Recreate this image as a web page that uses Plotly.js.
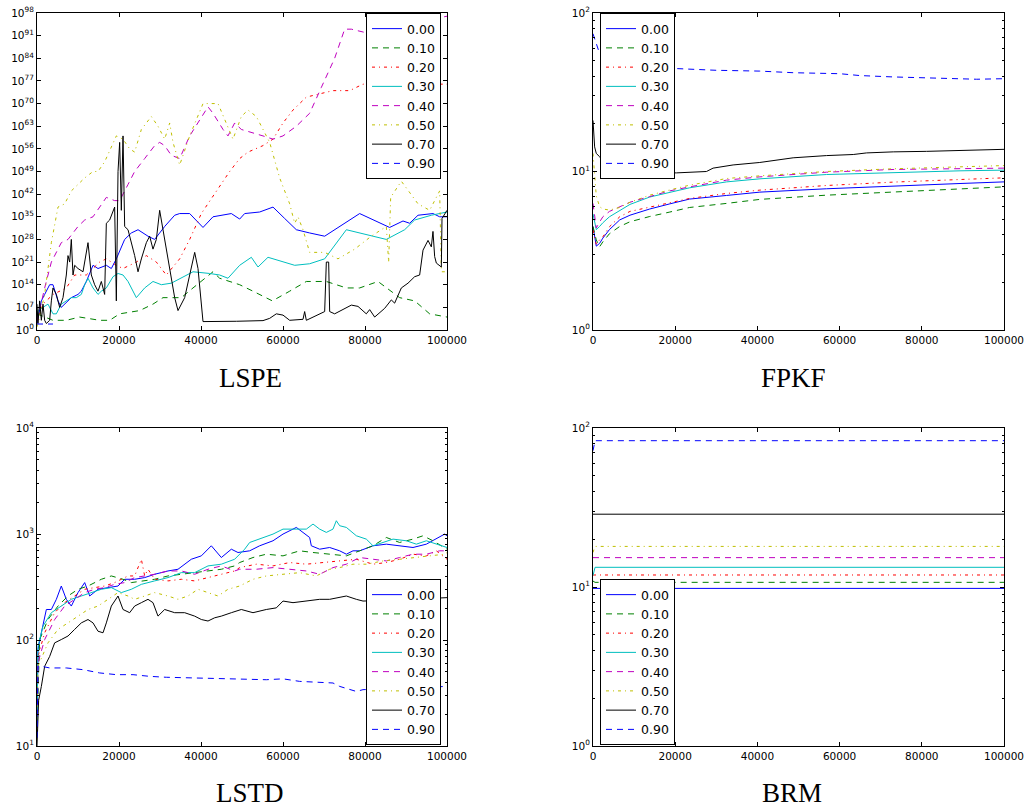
<!DOCTYPE html>
<html><head><meta charset="utf-8">
<script src="https://cdn.plot.ly/plotly-3.0.1.min.js"></script>
<style>html,body{margin:0;padding:0;background:#fff;}#chart{width:1029px;height:811px;}</style>
</head><body><div id="chart"></div>
<script>
// ---------- series names ----------
const seriesNames = ['0.00','0.10','0.20','0.30','0.40','0.50','0.70','0.90'];
const panelTitles = ['LSPE','FPKF','LSTD','BRM'];

// ---------- tick labels ----------
const lspeTickVals = [1e0,1e7,1e14,1e21,1e28,1e35,1e42,1e49,1e56,1e63,1e70,1e77,1e84,1e91,1e98];
const lspeTickText = ['10<sup>0</sup>','10<sup>7</sup>','10<sup>14</sup>','10<sup>21</sup>','10<sup>28</sup>','10<sup>35</sup>','10<sup>42</sup>','10<sup>49</sup>','10<sup>56</sup>','10<sup>63</sup>','10<sup>70</sup>','10<sup>77</sup>','10<sup>84</sup>','10<sup>91</sup>','10<sup>98</sup>'];
const decTickVals2 = [1,10,100];
const decTickText2 = ['10<sup>0</sup>','10<sup>1</sup>','10<sup>2</sup>'];
const decTickVals4 = [10,100,1000,10000];
const decTickText4 = ['10<sup>1</sup>','10<sup>2</sup>','10<sup>3</sup>','10<sup>4</sup>'];
const minorVals2 = [2,3,4,5,6,7,8,9,20,30,40,50,60,70,80,90];
const minorVals4 = [20,30,40,50,60,70,80,90,200,300,400,500,600,700,800,900,2000,3000,4000,5000,6000,7000,8000,9000];
const xTickVals = [0,20000,40000,60000,80000,100000];

// ---------- LSPE ----------
const lspeX00 = [0,1060,1870,3090,3900,5120,5930,8370,10000,10810,12030,13660,14880,16910,18130,19350,21380,23010,24640,27070,28700,31140,33580,34800,37240,40490,42930,47400,49430,50650,54310,57560,60410,63250,66500,70160,78700,86010,89270,90890,92930,96580,98210,100000];
const lspeY00 = [1e2,1e9,1e11,1e14,1e14,1e9,1e7,1e10,1e11,1e12,1e15,1e20,1e19,1e20,1e19,1e22,1e28,1e30,1e31,1e29,1e28,1e32,3e35,1e36,1e36,5e31,1e35,1e36,2e34,1e36,3e36,1e38,3e34,1e31,1e30,1e29,1e36,5e31,5e33,1e33,3e35,1e36,1e35,1e35];
const lspeX10 = [0,3900,7150,10400,15280,17720,20160,25040,28290,30730,33170,35200,38050,40080,42930,44550,49430,52680,57400,61630,65690,70570,75450,78700,83170,88450,92110,95770,100000];
const lspeY10 = [1e5,1e3,1e3,1e4,1e3,1e3,1e5,1e6,1e8,1e10,1e10,1e10,1e13,1e15,1e18,1e16,1e14,1e12,1e9,1e12,1e15,1e15,1e13,1e13,1e15,1e10,1e9,1e5,1e4];
const lspeX20 = [0,1460,3900,7150,9190,12030,15280,16910,19350,20970,24230,26670,29110,31540,34800,37240,40080,43740,46990,49430,51460,55120,57560,60000,62440,65690,68940,72190,76260,79510,100000];
const lspeY20 = [1e3,1e8,1e11,1e13,1e17,1e17,1e21,1e22,1e20,1e19,1e21,1e23,1e21,1e17,1e22,1e28,1e36,1e43,1e49,1e53,1e55,1e57,1e59,1e64,1e68,1e72,1e73,1e74,1e74,1e76,1e76];
const lspeX30 = [0,240,1460,2680,3900,4720,5930,7150,8370,9590,10810,11630,12440,13660,14880,15690,16910,18540,19760,20980,22200,24230,26260,28290,30330,32760,35610,38050,42110,44550,46580,49430,52280,53900,56340,59190,62850,66500,70160,75450,85200,89670,92110,96180,100000];
const lspeY30 = [1e4,1e6,1e7,1e8,1e5,1e5,1e8,1e9,1e10,1e10,1e11,1e14,1e16,1e13,1e11,1e12,1e13,3e16,3e17,1e17,1e15,1e10,1e13,1e15,1e14,3e14,3e16,1e18,3e17,1e17,1e16,1e20,3e22,3e19,3e22,3e21,1e20,3e20,1e22,1e31,1e28,1e31,1e34,3e35,3e36];
const lspeX40 = [0,240,1870,3500,5930,7560,10000,11630,13660,15690,16910,18940,20160,22200,23820,26260,28700,29920,31140,32760,34800,37240,39670,41710,42930,45370,46580,48210,49840,52680,55120,57560,60000,63250,66500,69350,72600,75040,76670,79920,100000];
const lspeY40 = [1e3,1e4,1e13,1e21,1e27,1e28,1e32,1e34,1e35,1e39,1e41,1e40,1e40,1e45,1e49,1e53,1e57,1e58,1e57,1e54,1e53,1e60,1e65,1e69,1e67,1e62,1e60,1e64,1e62,1e61,1e60,1e59,1e60,1e63,1e67,1e75,1e84,1e93,1e93,1e92,1e97];
const lspeX50 = [0,240,1870,3500,5120,6750,8370,10000,11630,13660,14880,16500,19350,20970,22600,23820,25450,27890,29510,31140,32360,33170,34800,37240,40490,44150,45770,47800,49840,51460,53500,55120,56750,59190,61630,62850,63660,64880,66500,70160,73410,77480,81540,85200,85770,86260,88860,92930,95770,98210,98620,100000];
const lspeY50 = [1e1,1e2,1e11,1e27,1e38,1e39,1e43,1e45,1e47,1e49,1e49,1e52,1e60,1e59,1e56,1e55,1e62,1e66,1e63,1e59,1e64,1e58,1e51,1e60,1e70,1e70,1e65,1e59,1e66,1e68,1e66,1e62,1e58,1e47,1e39,1e33,1e35,1e31,1e24,1e24,1e22,1e25,1e29,1e32,1e21,1e41,1e46,1e39,1e37,1e43,1e18,1e18];
const lspeX70 = [0,240,650,1060,1460,1870,2280,3090,3500,3900,4720,5530,6340,7150,7560,7970,8370,8780,9190,10000,11220,12030,12440,13250,14060,14880,15690,16500,16910,17720,18540,18940,19350,19760,20160,20570,20980,21380,22200,23010,23820,24640,25450,26670,27480,28290,29110,29920,30730,31950,33580,34390,36020,38460,39270,40490,44550,48620,55120,56750,58370,60000,61630,64880,65280,65690,70160,70570,71140,71380,72600,76670,78290,80320,81140,82360,84800,86420,87230,88860,90490,92110,93330,94150,95370,96180,96580,96990,97400,98620,98780,100000];
const lspeY70 = [1e8,1e2,1e9,1e3,1e8,1e3,1e2,1e3,1e9,1e13,1e11,1e7,1e10,1e17,1e23,1e21,1e28,1e17,1e20,1e19,1e18,1e24,1e27,1e17,1e14,1e12,1e15,1e11,1e33,1e34,1e37,1e38,1e9,1e49,1e58,1e37,1e60,1e32,1e31,1e27,1e23,1e18,1e22,1e27,1e29,1e25,1e28,1e37,1e31,1e22,1e10,1e6,1e10,1e24,1e19,4e2,4e2,5e2,8e2,4e3,1e5,4e4,1e3,2e3,5e5,1e3,5e5,1e21,1e21,5e5,1e5,5e7,2e7,1e5,2e6,1e4,5e6,2e9,2e8,1e13,3e14,3e16,1e17,5e24,5e27,5e25,3e30,5e22,5e20,3e19,3e34,1e37];
const lspeX90 = [0,3900];
const lspeY90 = [70,70];

// ---------- FPKF ----------
const fpkfX = [0,800,1600,2400,4000,6500,9000,13800,18700,23500,32500,40600,56800,73000,89300,100000];
const fpkf00 = [4.5,3.38,3.52,3.8,4.3,4.95,5.3,5.8,6.25,6.7,7.06,7.41,7.78,8.12,8.4,8.6];
const fpkf10 = [4.5,3.7,3.35,3.6,4.05,4.5,4.82,5.2,5.55,5.93,6.29,6.67,7.09,7.44,7.78,8.0];
const fpkf20 = [4.27,3.48,3.7,3.87,4.48,5.18,5.6,5.95,6.3,6.76,7.27,7.63,8.16,8.57,8.9,9.12];
const fpkf30 = [5.4,4.3,4.5,4.75,5.18,5.7,6.2,6.9,7.4,7.89,8.6,8.99,9.57,9.86,10.1,10.2];
const fpkf40 = [6.29,4.4,4.8,5.18,5.6,6.0,6.4,6.95,7.55,8.0,8.82,9.25,9.9,10.3,10.4,10.5];
const fpkf50 = [13,7.0,6.0,5.8,5.71,5.93,6.4,7.09,7.65,8.2,9.03,9.39,10.0,10.4,10.7,10.9];
const fpkfX70 = [0,400,800,1600,4870,6490,8120,12170,16230,20290,27600,29220,34090,40580,48700,56820,63320,66560,73050,81170,89290,100000];
const fpkf70 = [21,14.3,13,12.4,9.7,9.3,9.5,9.7,9.8,9.8,10,10.5,11,11.4,12.2,12.6,12.8,13.1,13.3,13.4,13.6,13.8];
const fpkfX90 = [0,800,1460,20290,30030,40580,48700,60060,64930,73050,81170,93340,100000];
const fpkf90 = [74,64,57,44.6,43.5,43,42,41.4,40.3,39.5,39.1,38.2,38.5];

// ---------- LSTD ----------
const lstdX00 = [0,240,1060,2280,3500,4720,5930,7150,8370,10000,11630,12850,14880,17320,19760,21380,23820,26260,28700,31950,34390,37640,40080,42520,44960,47400,49020,51870,54310,57560,60000,63250,64880,66500,66910,68940,71380,73820,75450,77070,78700,81950,85200,88450,91710,94960,97400,99430,100000];
const lstd00 = [15,81,117,194,194,242,323,242,209,280,348,260,301,312,323,374,374,388,417,448,465,578,622,774,600,719,669,694,774,863,998,1154,1035,927,774,719,746,694,645,694,694,774,802,774,746,802,895,998,962];
const lstdX10 = [0,650,2680,5120,7560,10000,12440,15690,18130,20980,23010,25450,28700,31950,35200,38450,41710,44960,48210,49430,52680,55930,60000,64060,67320,71380,75450,78700,81950,85200,88450,91710,94150,96580,100000];
const lstd10 = [15,101,156,209,260,301,323,374,402,374,348,361,374,402,417,432,448,465,500,538,600,645,622,694,669,645,622,694,774,927,832,895,962,863,719];
const lstdX20 = [0,240,1870,4310,6750,9190,11630,14060,16500,18940,20570,22200,23820,25450,26260,27070,28700,31950,35200,38450,41710,44960,48210,49430,53500,57560,61630,65690,69750,73820,77890,81950,85200,88450,91710,94960,97400,100000];
const lstd20 = [15,70,117,181,225,260,301,312,323,348,374,402,402,578,402,465,374,361,374,361,388,417,448,482,519,500,538,519,538,557,578,519,538,578,645,622,694,578];
const lstdX30 = [0,240,1460,3500,5930,8370,10810,13250,15690,18130,20570,23010,25450,28700,31950,35200,38450,41710,44960,48210,50650,51870,55120,57560,60000,62440,65690,67320,68940,70570,72190,73010,73820,75450,77890,80320,81950,84390,86830,90080,92520,94960,97400,99430,100000];
const lstd30 = [15,87,135,181,209,242,260,280,301,312,280,301,335,361,388,432,432,500,519,578,719,832,927,998,1112,1112,1112,1241,1112,1035,1112,1334,1197,1154,962,895,774,832,895,863,802,863,802,746,746];
const lstdX40 = [0,240,1870,4310,6750,9190,11630,14060,16500,18940,21380,23820,26260,28700,31950,35200,38450,41710,44960,48210,49430,53500,57560,61630,65690,68940,72190,75450,78700,81950,85200,88450,91710,94960,98210,100000];
const lstd40 = [15,61,101,156,209,242,280,301,312,335,348,388,402,417,448,448,417,465,500,448,465,465,482,465,448,417,482,519,600,578,557,600,645,645,694,694];
const lstdX50 = [0,240,2680,5120,7560,10000,12440,14880,17320,19760,22200,23820,26260,28700,31950,34390,36830,39270,41710,44150,46580,49430,52680,55930,60000,64060,68130,71380,73820,77070,80320,84390,88450,92520,96580,99430,100000];
const lstd50 = [12,56.5,94,126,145,168,194,209,242,280,260,242,260,280,260,242,260,301,280,260,301,323,374,402,417,432,402,465,482,519,519,557,578,600,622,645,669];
const lstdX70 = [0,80,400,1060,1870,3090,4310,5930,7560,9190,10810,12440,13660,14880,16100,16910,18130,19760,20980,22600,23820,25450,27070,28290,29510,31140,33580,36020,38450,40080,41710,43330,44960,47400,49840,52680,55930,58370,60000,62440,65690,68940,71380,73820,75450,77890,79510,90000,100000];
const lstd70 = [10,13,27,36.5,56.5,70,94,101,109,126,145,156,145,121,117,145,209,260,194,181,209,225,242,225,168,194,181,181,168,156,151,162,168,181,194,181,194,201,233,225,233,242,242,251,260,242,233,240,251];
const lstdX90 = [0,240,1060,3090,7150,11220,15280,19350,23420,27480,31540,35610,39670,43740,47800,51870,55930,60000,64060,68130,72190,73820,76260,77890,79510,100000];
const lstd90 = [12,56.5,56.5,54.5,54.5,52.5,48.9,47.1,47.1,45.4,44.5,44,43.8,43,43,42.2,42.2,43,40.7,40,39.3,36.5,34,32.7,34,36.5];

// ---------- BRM ----------
const brmX = [0,500,100000];
const brm00 = [9.8,9.8,9.8];
const brm10 = [10.9,10.7,10.7];
const brm20 = [11.9,11.9,11.9];
const brm30 = [11.8,13.3,13.3];
const brm40 = [15.3,15.3,15.3];
const brm50 = [16.5,18.0,18.0];
const brm70 = [28.7,28.7,28.7];
const brm90 = [72,83.2,83.2];

// ---------- styles ----------
const colors = ['#0000ff','#008000','#ff0000','#00bfbf','#bf00bf','#bfbf00','#000000','#0000ff'];
const dashes = ['solid','6px,5px','3px,4px,1px,4px','solid','6px,5px','3px,4px,1px,4px','solid','6px,5px'];

const panels = [
  {xs:[lspeX00,lspeX10,lspeX20,lspeX30,lspeX40,lspeX50,lspeX70,lspeX90], ys:[lspeY00,lspeY10,lspeY20,lspeY30,lspeY40,lspeY50,lspeY70,lspeY90], ax:'', lg:'legend'},
  {xs:[fpkfX,fpkfX,fpkfX,fpkfX,fpkfX,fpkfX,fpkfX70,fpkfX90], ys:[fpkf00,fpkf10,fpkf20,fpkf30,fpkf40,fpkf50,fpkf70,fpkf90], ax:'2', lg:'legend2'},
  {xs:[lstdX00,lstdX10,lstdX20,lstdX30,lstdX40,lstdX50,lstdX70,lstdX90], ys:[lstd00,lstd10,lstd20,lstd30,lstd40,lstd50,lstd70,lstd90], ax:'3', lg:'legend3'},
  {xs:[brmX,brmX,brmX,brmX,brmX,brmX,brmX,brmX], ys:[brm00,brm10,brm20,brm30,brm40,brm50,brm70,brm90], ax:'4', lg:'legend4'}
];

const traces = [];
panels.forEach(p => {
  seriesNames.forEach((nm, i) => {
    traces.push({
      type:'scatter', mode:'lines', name:nm,
      x:p.xs[i], y:p.ys[i],
      xaxis:'x'+p.ax, yaxis:'y'+p.ax, legend:p.lg,
      line:{color:colors[i], width:1, dash:dashes[i]},
      hoverinfo:'skip'
    });
  });
});

const W = 1029, H = 811;
const fx = p => p / W, fy = p => 1 - p / H;
const tickFont = {family:'DejaVu Sans, sans-serif', size:10.5, color:'#000'};
const baseAxis = {
  showline:true, linecolor:'#000', linewidth:1, mirror:'ticks',
  ticks:'inside', ticklen:4, tickwidth:1, tickcolor:'#000',
  showgrid:false, zeroline:false, tickfont:tickFont, fixedrange:true
};
function xAxis(dom, anchor) {
  return Object.assign({}, baseAxis, {domain:dom, anchor:anchor, range:[0,100000],
    tickmode:'array', tickvals:xTickVals, ticktext:xTickVals.map(String)});
}
function yAxis(dom, anchor, range, tv, tt, minor) {
  const a = Object.assign({}, baseAxis, {domain:dom, anchor:anchor, type:'log', range:range,
    tickmode:'array', tickvals:tv, ticktext:tt});
  if (minor) a.minor = {tickmode:'array', tickvals:minor, ticks:'inside', ticklen:2, tickwidth:1, tickcolor:'#000', showgrid:false};
  return a;
}
const colL = [fx(37), fx(447)], colR = [fx(593), fx(1004)];
const rowT = [fy(330), fy(13)], rowB = [fy(746), fy(428)];

const legendBase = {bgcolor:'#fff', bordercolor:'#000', borderwidth:1,
  font:{family:'DejaVu Sans, sans-serif', size:12.5, color:'#000'}, tracegroupgap:0};

const titleFont = {family:'Liberation Serif, serif', size:27, color:'#000'};
const layout = {
  width:W, height:H, margin:{l:0,r:0,t:0,b:0}, paper_bgcolor:'#fff', plot_bgcolor:'#fff',
  showlegend:true,
  xaxis: xAxis(colL,'y'), yaxis: yAxis(rowT,'x',[0,98],lspeTickVals,lspeTickText,null),
  xaxis2: xAxis(colR,'y2'), yaxis2: yAxis(rowT,'x2',[0,2],decTickVals2,decTickText2,minorVals2),
  xaxis3: xAxis(colL,'y3'), yaxis3: yAxis(rowB,'x3',[1,4],decTickVals4,decTickText4,minorVals4),
  xaxis4: xAxis(colR,'y4'), yaxis4: yAxis(rowB,'x4',[0,2],decTickVals2,decTickText2,minorVals2),
  legend: Object.assign({}, legendBase, {x:fx(441), xanchor:'right', y:fy(96), yanchor:'middle'}),
  legend2: Object.assign({}, legendBase, {x:fx(600), xanchor:'left', y:fy(96), yanchor:'middle'}),
  legend3: Object.assign({}, legendBase, {x:fx(441), xanchor:'right', y:fy(662), yanchor:'middle'}),
  legend4: Object.assign({}, legendBase, {x:fx(600), xanchor:'left', y:fy(662), yanchor:'middle'}),
  annotations: [
    {text:panelTitles[0], xref:'paper', yref:'paper', x:fx(250), y:fy(378), xanchor:'center', yanchor:'middle', showarrow:false, font:titleFont},
    {text:panelTitles[1], xref:'paper', yref:'paper', x:fx(793), y:fy(378), xanchor:'center', yanchor:'middle', showarrow:false, font:titleFont},
    {text:panelTitles[2], xref:'paper', yref:'paper', x:fx(250), y:fy(793), xanchor:'center', yanchor:'middle', showarrow:false, font:titleFont},
    {text:panelTitles[3], xref:'paper', yref:'paper', x:fx(792), y:fy(793), xanchor:'center', yanchor:'middle', showarrow:false, font:titleFont}
  ]
};

Plotly.newPlot('chart', traces, layout, {displayModeBar:false, staticPlot:true});
</script></body></html>
